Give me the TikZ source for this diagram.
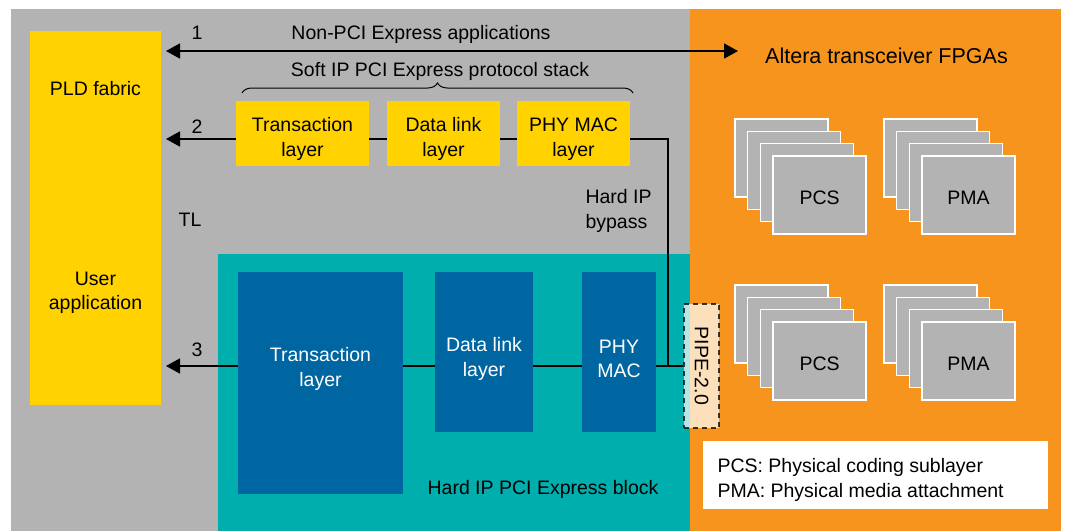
\documentclass[tikz,border=0pt]{standalone}
\usepackage{fontspec}
\setmainfont{Liberation Sans}
\usetikzlibrary{arrows.meta,decorations.pathreplacing}
\definecolor{bggray}{HTML}{B3B3B3}
\definecolor{fpgaorange}{HTML}{F7941D}
\definecolor{fabricyellow}{HTML}{FFD200}
\definecolor{hardteal}{HTML}{00AEAD}
\definecolor{hardblue}{HTML}{0066A1}
\begin{document}
\begin{tikzpicture}[x=1pt, y=-1pt, font=\fontsize{19.5}{24.5}\selectfont,
    softbox/.style={fill=fabricyellow, inner sep=0pt, outer sep=0pt, minimum height=65pt},
    hardbox/.style={fill=hardblue, inner sep=0pt, outer sep=0pt},
    boxtext/.style={align=center},
    hardtext/.style={boxtext, text=white},
    stackbox/.style={fill=bggray, draw=white, line width=1.5pt},
    link/.style={line width=1.7pt},
    arrow/.style={link, -{Triangle[length=14pt, width=15pt]}}]
    \useasboundingbox (0,0) rectangle (1065,531);
    \fill [bggray] (11,9) rectangle (690,531);
    \fill [fpgaorange] (690,9) rectangle (1061,531);
    \fill [hardteal] (218,254) rectangle (690,531);

    \node [fill=fabricyellow, minimum width=131pt, minimum height=374pt, inner sep=0pt] (pld) at (95.5,218) {};
    \node (pldname) at (95.5,89) {PLD fabric};
    \node [boxtext] (user) at (95.5,293) {User\\application};

    \node [softbox, minimum width=133pt] (tl1) at (302.5,133.5) {};
    \node [softbox, minimum width=113pt] (dl1) at (443.5,133.5) {};
    \node [softbox, minimum width=113pt] (pm1) at (573.5,133.5) {};
    \node [boxtext] (tl1text) at (302.5,139) {Transaction\\layer};
    \node [boxtext] (dl1text) at (443.5,139) {Data link\\layer};
    \node [boxtext] (pm1text) at (573.5,139) {PHY MAC\\layer};

    \node [hardbox, minimum width=165pt, minimum height=222pt] (tl2) at (320.5,383) {};
    \node [hardbox, minimum width=98pt, minimum height=160pt] (dl2) at (484,352) {};
    \node [hardbox, minimum width=74pt, minimum height=160pt] (pm2) at (619,352) {};
    \node [hardtext] (tl2text) at (320.5,369) {Transaction\\layer};
    \node [hardtext] (dl2text) at (484,359) {Data link\\layer};
    \node [hardtext] (pm2text) at (619,359) {PHY\\MAC};

    \coordinate (a1l) at (166,51);
    \coordinate (a1r) at (738,51);
    \coordinate (a2) at (166,139);
    \coordinate (a3) at (166,366);
    \coordinate (bypass) at (668,366);

    \draw [link, {Triangle[length=14pt, width=15pt]}-{Triangle[length=14pt, width=15pt]}] (a1l) -- (a1r);
    \draw [arrow] (tl1.west |- a2) -- (a2);
    \draw [link] (tl1.east |- a2) -- (dl1.west |- a2);
    \draw [link] (dl1.east |- a2) -- (pm1.west |- a2);
    \draw [link] (pm1.east |- a2) -| (bypass);
    \draw [arrow] (tl2.west |- a3) -- (a3);
    \draw [link] (tl2.east |- a3) -- (dl2.west |- a3);
    \draw [link] (dl2.east |- a3) -- (pm2.west |- a3);

    \node [draw=black, draw opacity=0.75, dash pattern=on 5pt off 4pt, line width=1.5pt, fill=white, fill opacity=0.7, minimum width=35pt, minimum height=124pt, inner sep=0pt] (pipe) at (701.5,366) {};
    \node [rotate=-90] (pipetext) at (701.5,366) {PIPE-2.0};
    \draw [link] (pm2.east |- bypass) -- (pipe.west |- bypass);

    \draw [decorate, decoration={brace, amplitude=10pt}, line width=1pt] (242,93) -- (633,93);

    \node (n1) at (197,33) {1};
    \node (n2) at (197,127) {2};
    \node (n3) at (197,350) {3};
    \node (tl) at (190,220) {TL};
    \node (nonpci) at (421,34) {Non-PCI Express applications};
    \node (softip) at (440,71) {Soft IP PCI Express protocol stack};
    \node [anchor=west, align=left] (hardip) at (582,211) {Hard IP\\bypass};
    \node (hardblock) at (543,489) {Hard IP PCI Express block};
    \node [font=\fontsize{21.5}{26}\selectfont] (altera) at (886.5,56) {Altera transceiver FPGAs};

    \foreach \sx/\sy/\txt in {735/119/PCS, 884/119/PMA, 735/285/PCS, 884/285/PMA} {
      \foreach \k in {0,...,3}
        \draw [stackbox] (\sx+\k*12.7, \sy+\k*12.3) rectangle +(93,78);
      \node (\txt-\sy) at (\sx+84.6, \sy+79) {\txt};
    }

    \node [fill=white, minimum width=345pt, minimum height=68pt, inner sep=0pt] (legendbox) at (875.5,475) {};
    \node [anchor=west, align=left] (legend) at (714,480) {PCS: Physical coding sublayer\\PMA: Physical media attachment};
  \end{tikzpicture}
\end{document}
